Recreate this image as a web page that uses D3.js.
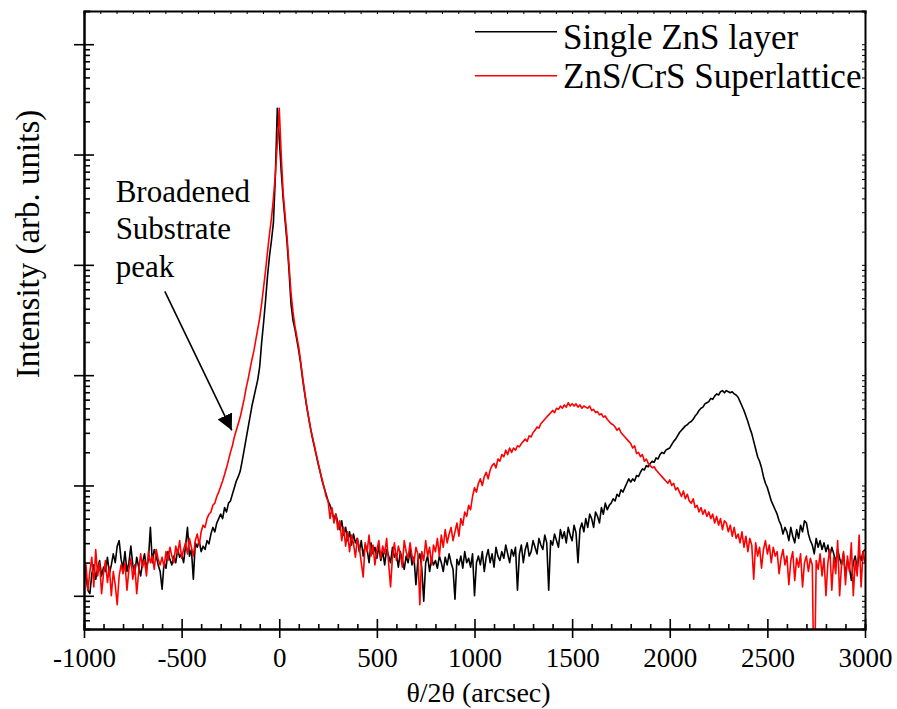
<!DOCTYPE html>
<html>
<head>
<meta charset="utf-8">
<script src="https://cdn.jsdelivr.net/npm/d3@7"></script>
<style>
  body { margin: 0; background: #fff; }
</style>
</head>
<body>
<svg id="chart" width="897" height="709"></svg>
<script>
// abscisse : de -1000 a 3000 arcsec, un point tous les 10 arcsec
const xStart = -1000;
const xStep = 10;
const xMajorTicks = [-1000, -500, 0, 500, 1000, 1500, 2000, 2500, 3000];
const yMajorTicks = [1, 10, 100, 1000, 10000, 100000];

// log10 de l'intensite, couche ZnS simple (courbe noire)
const singleLayerLog = [
  0.30, 0.18, 0.05, 0.02, 0.20, 0.28, 0.15, 0.25, 0.32, 0.18, 0.26, 0.22, 0.35, 0.20, 0.28, 0.38, 0.30, 0.45, 0.50, 0.33,
  0.25, 0.40, 0.22, 0.30, 0.45, 0.28, 0.20, 0.35, 0.26, 0.18, 0.30, 0.38, 0.25, 0.33, 0.62, 0.30, 0.42, 0.36, 0.28, 0.22,
  0.06, 0.30, 0.25, 0.40, 0.33, 0.28, 0.36, 0.30, 0.42, 0.35, 0.38, 0.30, 0.45, 0.62, 0.36, 0.42, 0.15, 0.48, 0.44, 0.50,
  0.40, 0.45, 0.42, 0.50, 0.47, 0.56, 0.62, 0.58, 0.66, 0.70, 0.74, 0.70, 0.80, 0.76, 0.84, 0.86, 0.92, 0.98, 1.04, 1.08,
  1.13, 1.22, 1.32, 1.42, 1.52, 1.62, 1.72, 1.80, 1.88, 1.96, 2.08, 2.30, 2.48, 2.68, 2.90, 3.08, 3.22, 3.38, 3.80, 4.42,
  4.15, 3.85, 3.60, 3.40, 3.20, 2.95, 2.65, 2.50, 2.42, 2.32, 2.22, 2.10, 1.96, 1.84, 1.72, 1.62, 1.52, 1.43, 1.35, 1.27,
  1.19, 1.12, 1.04, 0.98, 0.92, 0.86, 0.82, 0.76, 0.70, 0.74, 0.66, 0.60, 0.68, 0.55, 0.62, 0.50, 0.58, 0.46, 0.56, 0.48,
  0.52, 0.40, 0.50, 0.36, 0.46, 0.42, 0.30, 0.48, 0.38, 0.44, 0.34, 0.45, 0.32, 0.40, 0.28, 0.42, 0.36, 0.30, 0.44, 0.35,
  0.38, 0.26, 0.40, 0.33, 0.24, 0.36, 0.30, 0.42, 0.28, 0.35, 0.10, 0.32, 0.38, 0.25, -0.05, 0.30, 0.36, 0.22, 0.34, 0.28,
  0.32, 0.25, 0.36, 0.30, 0.22, 0.35, 0.28, 0.38, 0.30, 0.24, -0.03, 0.33, 0.28, 0.36, 0.25, 0.40, 0.30, 0.34, 0.26, 0.38,
  0.00, 0.30, 0.36, 0.28, 0.40, 0.22, 0.35, 0.42, 0.30, 0.38, 0.26, 0.44, 0.36, 0.32, 0.40, 0.34, 0.46, 0.38, 0.30, 0.42,
  0.36, 0.44, 0.05, 0.38, 0.46, 0.30, 0.42, 0.48, 0.36, 0.40, 0.50, 0.44, 0.38, 0.52, 0.46, 0.42, 0.55, 0.48, 0.05, 0.50,
  0.46, 0.56, 0.50, 0.44, 0.60, 0.52, 0.58, 0.48, 0.62, 0.55, 0.50, 0.64, 0.57, 0.30, 0.60, 0.66, 0.58, 0.70, 0.62, 0.74,
  0.70, 0.62, 0.76, 0.72, 0.66, 0.80, 0.74, 0.84, 0.78, 0.82, 0.84, 0.88, 0.86, 0.92, 0.90, 0.96, 0.94, 0.98, 1.02, 1.06,
  1.03, 1.06, 1.04, 1.09, 1.08, 1.12, 1.15, 1.14, 1.18, 1.17, 1.20, 1.22, 1.21, 1.25, 1.24, 1.28, 1.30, 1.29, 1.32, 1.33,
  1.34, 1.37, 1.40, 1.42, 1.45, 1.48, 1.50, 1.52, 1.54, 1.55, 1.57, 1.58, 1.60, 1.63, 1.65, 1.68, 1.70, 1.71, 1.74, 1.75,
  1.76, 1.79, 1.78, 1.81, 1.83, 1.82, 1.85, 1.86, 1.84, 1.86, 1.85, 1.84, 1.85, 1.83, 1.82, 1.80, 1.76, 1.72, 1.68, 1.63,
  1.58, 1.52, 1.47, 1.40, 1.33, 1.26, 1.22, 1.16, 1.08, 1.02, 0.98, 0.92, 0.86, 0.82, 0.78, 0.74, 0.68, 0.64, 0.56, 0.62,
  0.58, 0.50, 0.62, 0.54, 0.48, 0.60, 0.52, 0.64, 0.58, 0.68, 0.66, 0.56, 0.50, 0.46, 0.38, 0.52, 0.44, 0.50, 0.42, 0.48,
  0.40, 0.46, 0.36, 0.44, 0.38, 0.30, 0.42, 0.34, 0.28, 0.38, 0.18, 0.32, 0.26, 0.14, 0.30, 0.36, 0.24, 0.38, 0.32, 0.40,
  0.42
];

// log10 de l'intensite, super-reseau ZnS/CrS (courbe rouge)
const superlatticeLog = [
  0.10, 0.28, 0.05, 0.22, 0.35, 0.08, 0.42, 0.18, 0.30, 0.02, 0.20, 0.32, 0.12, 0.26, 0.00, 0.22, 0.10, -0.08, 0.18, 0.28,
  0.20, 0.30, 0.05, 0.24, 0.34, 0.15, 0.28, 0.02, 0.22, 0.38, 0.26, 0.32, 0.18, 0.40, 0.30, 0.36, 0.24, 0.42, 0.33, 0.28,
  0.35, 0.26, 0.40, 0.32, 0.44, 0.36, 0.30, 0.45, 0.38, 0.50, 0.34, 0.42, 0.48, 0.38, 0.52, 0.44, 0.36, 0.50, 0.56, 0.46,
  0.58, 0.64, 0.62, 0.70, 0.74, 0.76, 0.82, 0.84, 0.90, 0.94, 0.99, 1.04, 1.10, 1.16, 1.23, 1.30, 1.36, 1.44, 1.50, 1.56,
  1.62, 1.70, 1.78, 1.88, 1.96, 2.05, 2.14, 2.22, 2.32, 2.42, 2.52, 2.65, 2.80, 2.95, 3.12, 3.28, 3.42, 3.60, 3.82, 4.10,
  4.42, 4.00, 3.65, 3.45, 3.25, 3.00, 2.75, 2.58, 2.45, 2.35, 2.25, 2.12, 1.98, 1.85, 1.73, 1.62, 1.52, 1.44, 1.36, 1.28,
  1.20, 1.12, 1.05, 0.98, 0.90, 0.86, 0.70, 0.80, 0.66, 0.74, 0.60, 0.68, 0.50, 0.62, 0.45, 0.58, 0.40, 0.55, 0.48, 0.35,
  0.52, 0.44, 0.30, 0.17, 0.48, 0.40, 0.55, 0.36, 0.46, 0.28, 0.42, 0.50, 0.34, 0.45, 0.38, 0.52, 0.30, 0.08, 0.36, 0.48,
  0.32, 0.45, 0.38, 0.26, 0.50, 0.40, 0.34, 0.48, 0.36, 0.30, 0.44, 0.38, -0.08, 0.40, 0.32, 0.50, 0.36, 0.44, 0.28, 0.46,
  0.40, 0.52, 0.36, 0.55, 0.44, 0.60, 0.48, 0.56, 0.62, 0.50, 0.58, 0.66, 0.54, 0.70, 0.64, 0.76, 0.72, 0.82, 0.78, 0.90,
  0.98, 0.94, 1.02, 1.06, 1.00, 1.08, 1.12, 1.06, 1.14, 1.18, 1.20, 1.16, 1.24, 1.22, 1.28, 1.26, 1.32, 1.28, 1.34, 1.30,
  1.34, 1.32, 1.36, 1.35, 1.38, 1.40, 1.42, 1.40, 1.45, 1.44, 1.48, 1.50, 1.53, 1.52, 1.56, 1.58, 1.60, 1.62, 1.64, 1.66,
  1.68, 1.66, 1.70, 1.69, 1.72, 1.70, 1.73, 1.71, 1.75, 1.72, 1.74, 1.72, 1.74, 1.71, 1.73, 1.70, 1.72, 1.71, 1.70, 1.72,
  1.68, 1.69, 1.66, 1.67, 1.64, 1.65, 1.62, 1.63, 1.60, 1.58, 1.56, 1.55, 1.53, 1.50, 1.52, 1.48, 1.46, 1.44, 1.42, 1.40,
  1.38, 1.34, 1.36, 1.29, 1.30, 1.26, 1.28, 1.22, 1.24, 1.20, 1.18, 1.16, 1.17, 1.14, 1.12, 1.10, 1.08, 1.06, 1.04, 1.02,
  1.05, 1.00, 1.02, 0.96, 0.98, 0.94, 0.90, 0.95, 0.88, 0.92, 0.86, 0.84, 0.88, 0.80, 0.82, 0.76, 0.80, 0.74, 0.78, 0.72,
  0.76, 0.70, 0.74, 0.66, 0.72, 0.64, 0.70, 0.60, 0.68, 0.66, 0.58, 0.64, 0.54, 0.62, 0.52, 0.56, 0.48, 0.58, 0.44, 0.54,
  0.40, 0.52, 0.46, 0.15, 0.48, 0.36, 0.44, 0.25, 0.42, 0.50, 0.38, 0.46, 0.30, 0.44, 0.36, 0.40, 0.20, 0.34, 0.42, 0.28,
  0.36, 0.10, 0.32, 0.40, 0.14, 0.34, 0.26, 0.38, 0.08, 0.30, 0.36, 0.22, 0.34, 0.28, -1.00, 0.32, 0.24, 0.38, 0.18, 0.34,
  0.00, 0.30, 0.42, 0.05, 0.35, 0.20, 0.50, 0.00, 0.28, 0.40, 0.10, 0.36, 0.22, 0.48, 0.00, 0.32, 0.18, 0.55, 0.08, 0.40,
  0.30
];

const seriesNames = ["Single ZnS layer", "ZnS/CrS Superlattice"];
const seriesColors = ["#000000", "#ff0000"];

// annotation (coordonnees en unites du graphe)
const annotationLines = ["Broadened", "Substrate", "peak"];
const annotationPos = { x: -838, logI: 3.57 };
const arrowFrom = { x: -586, logI: 2.76 };
const arrowTo = { x: -243, logI: 1.50 };

const FONT = "'Liberation Serif', 'Times New Roman', Times, serif";

const svg = d3.select("#chart");
const margin = { left: 84, right: 865, top: 11, bottom: 629 };

const xScale = d3.scaleLinear().domain([-1000, 3000]).range([margin.left, margin.right]);
const yScale = d3.scaleLog().domain([0.5, 2e5]).range([margin.bottom, margin.top]);

// graduations secondaires
const xMinorTicks = d3.range(-1000, 3001, 100).filter(v => v % 500 !== 0);
const xTopTicks = d3.range(0, 49).map(i => -1000 + i * 4000 / 48);
const yMinorTicks = [];
[-1, 0, 1, 2, 3, 4, 5].forEach(d => {
  for (let k = 2; k <= 9; k++) {
    const v = k * Math.pow(10, d);
    if (v > 0.5 && v < 2e5) yMinorTicks.push(v);
  }
});

// courbes
svg.append("clipPath").attr("id", "clip")
  .append("rect")
  .attr("x", margin.left).attr("y", margin.top)
  .attr("width", margin.right - margin.left)
  .attr("height", margin.bottom - margin.top);

const line = d3.line()
  .x((d, i) => xScale(xStart + i * xStep))
  .y(d => yScale(Math.pow(10, d)));

[singleLayerLog, superlatticeLog].forEach((serie, i) => {
  svg.append("path")
    .datum(serie)
    .attr("clip-path", "url(#clip)")
    .attr("fill", "none")
    .attr("stroke", seriesColors[i])
    .attr("stroke-width", 1.6)
    .attr("stroke-linejoin", "round")
    .attr("d", line);
});

// axes
const styleAxis = g => {
  g.select(".domain").attr("stroke", "#000").attr("stroke-width", 2);
  g.selectAll(".tick line").attr("stroke", "#000").attr("stroke-width", 1.6);
};

// bas : majeures
svg.append("g")
  .attr("transform", `translate(0,${margin.bottom})`)
  .call(d3.axisBottom(xScale).tickValues(xMajorTicks).tickSizeInner(9).tickSizeOuter(0).tickPadding(10)
    .tickFormat(d => String(d)))
  .call(styleAxis)
  .call(g => g.selectAll(".tick line").attr("y1", -10))
  .call(g => g.selectAll(".tick text")
    .style("font-family", FONT)
    .style("font-size", "27px")
    .attr("fill", "#000"));

// bas : mineures
svg.append("g")
  .attr("transform", `translate(0,${margin.bottom})`)
  .call(d3.axisBottom(xScale).tickValues(xMinorTicks).tickSize(-5).tickFormat(""))
  .call(styleAxis);

// haut
svg.append("g")
  .attr("transform", `translate(0,${margin.top})`)
  .call(d3.axisTop(xScale).tickValues(xTopTicks).tickSize(-3).tickFormat(""))
  .call(styleAxis)
  .call(g => g.selectAll(".tick line").attr("stroke-width", 1));

// gauche : majeures
svg.append("g")
  .attr("transform", `translate(${margin.left},0)`)
  .call(d3.axisLeft(yScale).tickValues(yMajorTicks).tickSizeInner(10).tickSizeOuter(0).tickFormat(""))
  .call(styleAxis)
  .call(g => g.selectAll(".tick line").attr("x1", 10));

// gauche : mineures
svg.append("g")
  .attr("transform", `translate(${margin.left},0)`)
  .call(d3.axisLeft(yScale).tickValues(yMinorTicks).tickSize(-6).tickFormat(""))
  .call(styleAxis);

// droite
svg.append("g")
  .attr("transform", `translate(${margin.right},0)`)
  .call(d3.axisRight(yScale).tickValues(yMajorTicks.concat(yMinorTicks)).tickSize(-3).tickFormat(""))
  .call(styleAxis)
  .call(g => g.selectAll(".tick line").attr("stroke-width", 1));

// titres des axes
svg.append("text")
  .attr("x", (margin.left + margin.right) / 2 + 4)
  .attr("y", 702)
  .attr("text-anchor", "middle")
  .style("font-family", FONT)
  .style("font-size", "28px")
  .text("θ/2θ (arcsec)");

svg.append("text")
  .attr("transform", "translate(39,244) rotate(-90)")
  .attr("text-anchor", "middle")
  .style("font-family", FONT)
  .style("font-size", "33px")
  .text("Intensity (arb. units)");

// legende
const legend = svg.append("g");
const legendRows = [31.7, 75.7];
const legendBaselines = [49, 88];
seriesNames.forEach((name, i) => {
  legend.append("line")
    .attr("x1", 475).attr("x2", 557)
    .attr("y1", legendRows[i]).attr("y2", legendRows[i])
    .attr("stroke", seriesColors[i])
    .attr("stroke-width", 1.6);
  legend.append("text")
    .attr("x", 563)
    .attr("y", legendBaselines[i])
    .style("font-family", FONT)
    .style("font-size", "35px")
    .text(name);
});

// annotation + fleche
const note = svg.append("text")
  .attr("x", xScale(annotationPos.x))
  .attr("y", yScale(Math.pow(10, annotationPos.logI)))
  .style("font-family", FONT)
  .style("font-size", "31px");
note.selectAll("tspan")
  .data(annotationLines)
  .enter()
  .append("tspan")
  .attr("x", xScale(annotationPos.x))
  .attr("dy", (d, i) => i === 0 ? 0 : 37.5)
  .text(d => d);

svg.append("defs").append("marker")
  .attr("id", "fleche")
  .attr("viewBox", "0 0 10 10")
  .attr("refX", 10).attr("refY", 5)
  .attr("markerWidth", 10).attr("markerHeight", 10)
  .attr("markerUnits", "strokeWidth")
  .attr("orient", "auto")
  .append("path")
  .attr("d", "M0,0 L10,5 L0,10 z")
  .attr("fill", "#000");

svg.append("line")
  .attr("x1", xScale(arrowFrom.x))
  .attr("y1", yScale(Math.pow(10, arrowFrom.logI)))
  .attr("x2", xScale(arrowTo.x))
  .attr("y2", yScale(Math.pow(10, arrowTo.logI)))
  .attr("stroke", "#000")
  .attr("stroke-width", 1.6)
  .attr("marker-end", "url(#fleche)");
</script>
</body>
</html>
